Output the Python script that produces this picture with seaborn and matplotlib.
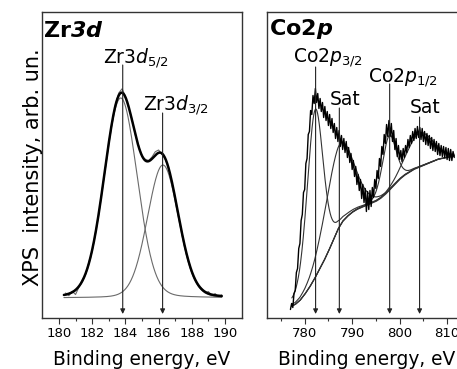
import numpy as np
import matplotlib
matplotlib.use("Agg")
import matplotlib.pyplot as plt
import seaborn as sns

# ---------------- data ----------------
# Zr 3d: measured spectrum (0.2 eV step) and fitted doublet
zr_energy = np.round(np.linspace(180.4, 189.8, 48), 1)
zr_counts = [24.5, 21.8, 26.2, 23.0, 30.2, 37.5, 43.0, 55.1, 66.5, 85.0,
             103.6, 128.0, 150.2, 175.3, 194.8, 213.0, 224.5, 228.7, 221.2, 209.8,
             198.0, 182.4, 171.5, 161.0, 158.2, 157.0, 160.5, 165.8, 167.5, 163.0,
             158.4, 149.9, 134.8, 119.8, 101.2, 85.3, 68.8, 56.9, 45.2, 38.3,
             31.6, 28.8, 24.6, 25.9, 21.7, 23.9, 20.8, 22.6]
zr_baseline = 19.5
zr_centers = [183.72, 186.26]
zr_heights = [200.0, 133.0]
zr_fwhm = [2.35, 2.2]
zr_eta = [0.1, 0.1]
zr_labels = [r"Zr$\mathit{3d}_{\mathit{5/2}}$", r"Zr$\mathit{3d}_{\mathit{3/2}}$"]
zr_marks = [183.84, 186.24]

# Co 2p: measured spectrum (0.25 eV step), background and fitted components
co_energy = np.round(np.linspace(777.0, 811.5, 139), 2)
co_counts = [8, 14, 10, 24, 27, 45, 49, 69, 74, 97,
             103, 125, 128, 154, 159, 183, 186, 207, 203, 222,
             214, 229, 215, 224, 209, 219, 206, 215, 200, 211,
             197, 206, 192, 203, 189, 199, 185, 194, 179, 190,
             176, 187, 171, 182, 168, 179, 165, 176, 160, 170,
             155, 164, 148, 157, 141, 151, 133, 143, 127, 138,
             119, 133, 115, 129, 106, 126, 108, 127, 111, 130,
             120, 138, 129, 147, 139, 159, 151, 171, 163, 183,
             174, 193, 181, 197, 181, 194, 176, 187, 168, 179,
             161, 172, 158, 167, 156, 169, 160, 172, 165, 178,
             170, 182, 174, 186, 177, 189, 179, 191, 180, 190,
             178, 189, 176, 186, 173, 184, 172, 182, 169, 180,
             167, 178, 166, 176, 163, 174, 162, 172, 161, 171,
             160, 170, 158, 169, 157, 168, 157, 166, 160]
co_bg_energy = np.arange(777, 813)
co_bg = [11, 13, 17, 23, 30, 38, 47, 56, 66, 77, 88, 96, 101, 105, 108, 110,
         112, 114, 116, 119, 123, 128, 133, 138, 142, 145, 148, 150, 152, 154,
         156, 158, 159, 160, 161, 162]
co_centers = [782.2, 787.3, 797.8, 804.2]
co_heights = [168.0, 82.0, 55.0, 34.0]
co_fwhm = [4.0, 7.0, 3.4, 6.5]
co_eta = [0.25, 0.15, 0.2, 0.15]
co_labels = [r"Co2$\mathit{p}_{\mathit{3/2}}$", "Sat", r"Co2$\mathit{p}_{\mathit{1/2}}$", "Sat"]
co_marks = [782.3, 787.3, 797.9, 804.2]


def pseudo_voigt(x, c, h, w, eta):
    u = (x - c) / w
    return h * ((1 - eta) * np.exp(-4 * np.log(2) * u ** 2) + eta / (1 + 4 * u ** 2))


# ---------------- style ----------------
sns.set_theme(style="ticks")
plt.rcParams["font.family"] = ["DejaVu Sans"]
plt.rcParams["text.color"] = "black"
plt.rcParams["mathtext.fontset"] = "custom"
plt.rcParams["mathtext.rm"] = "DejaVu Sans"
plt.rcParams["mathtext.it"] = "DejaVu Sans:italic"
plt.rcParams["mathtext.bf"] = "DejaVu Sans:bold"
plt.rcParams["mathtext.bfit"] = "DejaVu Sans:bold:italic"

W, H = 457, 369
fig = plt.figure(figsize=(W / 100, H / 100), dpi=100)
fig.patch.set_facecolor("white")

ax_h = 305.5 / H
ax_w = 199.4 / W
ax1 = fig.add_axes([42.3 / W, 1 - 317.5 / H, ax_w, ax_h])
ax2 = fig.add_axes([266.7 / W, 1 - 317.5 / H, ax_w, ax_h])

spine_col = "#333333"
for ax in (ax1, ax2):
    ax.set_facecolor("white")
    for s in ax.spines.values():
        s.set_visible(True)
        s.set_color(spine_col)
        s.set_linewidth(1.0)
    ax.set_ylim(0, 305.5)
    ax.set_yticks([])
    ax.tick_params(axis="x", which="major", direction="out", length=4, width=0.8,
                   color=spine_col, labelsize=9.5, pad=3, labelcolor="black")
    ax.tick_params(axis="x", which="minor", direction="out", length=2.5, width=0.8,
                   color=spine_col)
    ax.set_xlabel("")
    ax.set_ylabel("")


def marker_line(ax, x, y_top, y_tip=3.5):
    ax.annotate("", xy=(x, y_tip), xytext=(x, y_top),
                arrowprops=dict(arrowstyle="-|>", color="#222222", lw=0.8,
                                mutation_scale=7, shrinkA=0, shrinkB=0))


LABEL_SIZE = 13.5
TITLE_SIZE = 16

# ---------------- Zr 3d ----------------
ax1.set_xlim(179, 191)
ax1.set_xticks(np.arange(180, 191, 2))
ax1.set_xticks(np.arange(181, 191, 2), minor=True)

zr_grid = np.linspace(180.3, 189.8, 400)
zr_comps = [pseudo_voigt(zr_grid, c, h, w, e)
            for c, h, w, e in zip(zr_centers, zr_heights, zr_fwhm, zr_eta)]
zr_env = zr_baseline + sum(zr_comps)

sns.lineplot(x=zr_energy, y=zr_counts, ax=ax1, color="#6a6a6a", lw=0.8)
for comp in zr_comps:
    sns.lineplot(x=zr_grid, y=zr_baseline + comp, ax=ax1, color="#6a6a6a", lw=0.8)
sns.lineplot(x=zr_grid, y=zr_env, ax=ax1, color="black", lw=1.8)

zr_label_pos = [(182.68, 254.5, 252.5), (185.08, 207.5, 204.5)]
for mark, lab, (lx, ly, ltop) in zip(zr_marks, zr_labels, zr_label_pos):
    ax1.text(lx, ly, lab, fontsize=LABEL_SIZE, ha="left", va="baseline", color="black")
    marker_line(ax1, mark, ltop)

ax1.text(0.006, 0.918, r"$\mathbf{Zr}\mathbfit{3d}$", transform=ax1.transAxes,
         fontsize=TITLE_SIZE, ha="left", va="baseline", color="black")

# ---------------- Co 2p ----------------
ax2.set_xlim(772, 814)
ax2.set_xticks([780, 790, 800, 810])
ax2.set_xticks([775, 785, 795, 805], minor=True)

co_grid = np.linspace(777.3, 811.5, 700)
co_bg_fine = np.interp(co_grid, co_bg_energy, co_bg)
co_comps = [pseudo_voigt(co_grid, c, h, w, e)
            for c, h, w, e in zip(co_centers, co_heights, co_fwhm, co_eta)]

sns.lineplot(x=co_grid, y=co_bg_fine, ax=ax2, color="#333333", lw=0.8)
for comp in co_comps:
    sns.lineplot(x=co_grid, y=co_bg_fine + comp, ax=ax2, color="#333333", lw=0.8)
sns.lineplot(x=co_energy, y=co_counts, ax=ax2, color="black", lw=1.0)

co_label_pos = [(777.6, 255.5, 250.5), (785.2, 212.5, 209.5),
                (793.4, 235.5, 233.5), (802.2, 204.5, 200.5)]
for mark, lab, (lx, ly, ltop) in zip(co_marks, co_labels, co_label_pos):
    ax2.text(lx, ly, lab, fontsize=LABEL_SIZE, ha="left", va="baseline", color="black")
    marker_line(ax2, mark, ltop)

ax2.text(0.010, 0.925, r"$\mathbf{Co2}\mathbfit{p}$", transform=ax2.transAxes,
         fontsize=TITLE_SIZE, ha="left", va="baseline", color="black")

# ---------------- axis titles ----------------
fig.text(33 / W, 1 - 167 / H, "XPS  intensity, arb. un.", rotation=90,
         ha="center", va="center", fontsize=15, color="black")
fig.text(142 / W, 1 - 365 / H, "Binding energy, eV", ha="center", va="baseline",
         fontsize=13.4, color="black")
fig.text(366.3 / W, 1 - 365 / H, "Binding energy, eV", ha="center", va="baseline",
         fontsize=13.4, color="black")

fig.savefig("out.png", dpi=100, facecolor="white")
